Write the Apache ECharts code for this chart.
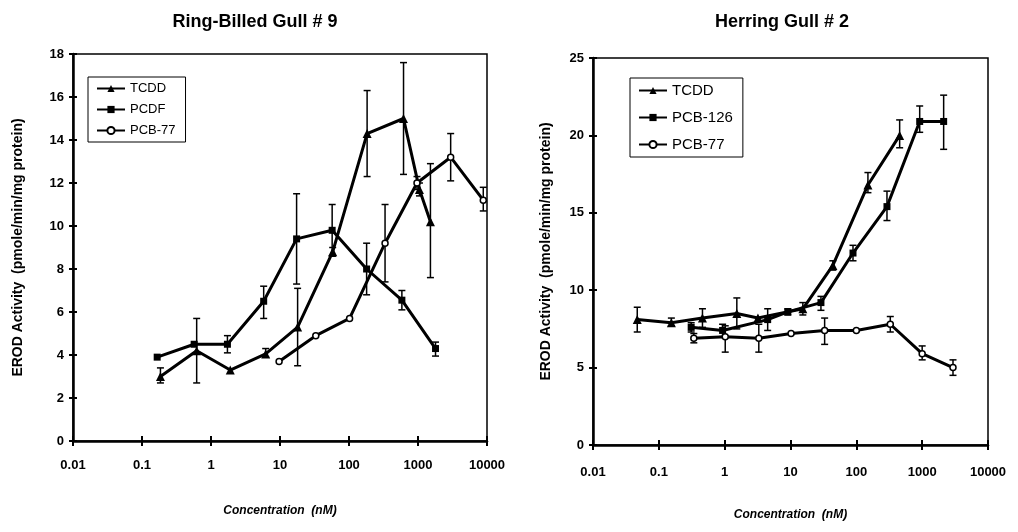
<!DOCTYPE html>
<html>
<head>
<meta charset="utf-8">
<script src="https://cdn.jsdelivr.net/npm/echarts@6/dist/echarts.min.js"></script>
<style>
  html, body { margin: 0; padding: 0; background: #fff; }
  #chart { width: 1018px; height: 532px; }
</style>
</head>
<body>
<div id="chart"></div>
<script>
// tick labels
var xTickLabels = ['0.01', '0.1', '1', '10', '100', '1000', '10000'];

// Ring-Billed Gull # 9
var rbTcddX = [0.185, 0.62, 1.9, 6.2, 18, 58, 183, 617, 1050, 1514];
var rbTcddY = [3.0, 4.2, 3.3, 4.05, 5.3, 8.8, 14.3, 15.0, 11.7, 10.2];
var rbTcddLo = [2.7, 2.7, null, 3.9, 3.5, 8.6, 12.3, 12.4, 11.4, 7.6];
var rbTcddHi = [3.4, 5.7, null, 4.3, 7.1, 9.0, 16.3, 17.6, 12.0, 12.9];

var rbPcdfX = [0.166, 0.57, 1.73, 5.8, 17.4, 57, 180, 584, 1795];
var rbPcdfY = [3.9, 4.5, 4.5, 6.5, 9.4, 9.8, 8.0, 6.55, 4.3];
var rbPcdfLo = [null, null, 4.1, 5.7, 7.3, 8.6, 6.8, 6.1, 3.95];
var rbPcdfHi = [null, null, 4.9, 7.2, 11.5, 11.0, 9.2, 7.0, 4.6];

var rbPcb77X = [9.7, 33, 102, 333, 967, 2974, 8830];
var rbPcb77Y = [3.7, 4.9, 5.7, 9.2, 12.0, 13.2, 11.2];
var rbPcb77Lo = [null, null, null, 7.4, 11.7, 12.1, 10.7];
var rbPcb77Hi = [null, null, null, 11.0, 12.3, 14.3, 11.8];

// Herring Gull # 2
var hgTcddX = [0.047, 0.155, 0.46, 1.53, 3.2, 15.4, 44, 150, 455];
var hgTcddY = [8.1, 7.9, 8.2, 8.5, 8.2, 8.8, 11.6, 16.8, 20.0];
var hgTcddLo = [7.3, 7.7, 7.6, 7.5, null, 8.4, 11.3, 16.3, 19.2];
var hgTcddHi = [8.9, 8.2, 8.8, 9.5, null, 9.2, 11.9, 17.6, 21.0];

var hgPcb126X = [0.31, 0.93, 4.5, 9.1, 29, 89, 292, 917, 2120];
var hgPcb126Y = [7.6, 7.4, 8.1, 8.6, 9.2, 12.4, 15.4, 20.9, 20.9];
var hgPcb126Lo = [7.3, 7.0, 7.4, 8.4, 8.7, 11.9, 14.5, 20.2, 19.1];
var hgPcb126Hi = [7.9, 7.8, 8.8, 8.8, 9.6, 12.9, 16.4, 21.9, 22.6];

var hgPcb77X = [0.34, 1.02, 3.3, 10.2, 33, 100, 328, 1000, 2940];
var hgPcb77Y = [6.9, 7.0, 6.9, 7.2, 7.4, 7.4, 7.8, 5.9, 5.0];
var hgPcb77Lo = [6.6, 6.0, 6.0, null, 6.5, null, 7.3, 5.5, 4.5];
var hgPcb77Hi = [7.2, 7.7, 7.8, null, 8.2, null, 8.3, 6.4, 5.5];

var font = 'Liberation Sans, Arial, sans-serif';

function pairs(xs, ys) {
  return xs.map(function (x, i) { return [x, ys[i]]; });
}
function errs(xs, lo, hi) {
  var out = [];
  xs.forEach(function (x, i) {
    if (lo[i] != null) out.push([x, lo[i], hi[i]]);
  });
  return out;
}

var styles = {
  tri: { symbol: 'triangle', symbolSize: 9, itemStyle: { color: '#000' } },
  sq: { symbol: 'rect', symbolSize: 7, itemStyle: { color: '#000' } },
  circ: { symbol: 'circle', symbolSize: 6, itemStyle: { color: '#fff', borderColor: '#000', borderWidth: 1.5 } }
};

function lineSeries(name, g, data, st) {
  return {
    name: name, type: 'line', xAxisIndex: g, yAxisIndex: g,
    data: data, symbol: st.symbol, symbolSize: st.symbolSize,
    itemStyle: st.itemStyle, lineStyle: { color: '#000', width: 3 },
    z: 3, animation: false
  };
}

function errSeries(g, data) {
  return {
    type: 'custom', xAxisIndex: g, yAxisIndex: g, data: data, z: 2,
    silent: true, animation: false,
    renderItem: function (params, api) {
      var lo = api.coord([api.value(0), api.value(1)]);
      var hi = api.coord([api.value(0), api.value(2)]);
      var w = 3.5;
      var st = { stroke: '#000', lineWidth: 1.5 };
      return {
        type: 'group',
        children: [
          { type: 'line', shape: { x1: lo[0], y1: lo[1], x2: hi[0], y2: hi[1] }, style: st },
          { type: 'line', shape: { x1: lo[0] - w, y1: lo[1], x2: lo[0] + w, y2: lo[1] }, style: st },
          { type: 'line', shape: { x1: hi[0] - w, y1: hi[1], x2: hi[0] + w, y2: hi[1] }, style: st }
        ]
      };
    }
  };
}

function mainX(g) {
  return {
    type: 'log', logBase: 10, min: 0.01, max: 10000, gridIndex: g,
    axisLine: { lineStyle: { color: '#000', width: 2.5 } },
    axisTick: { inside: false, length: 5, lineStyle: { color: '#000', width: 2 } },
    axisLabel: {
      color: '#000', fontFamily: font, fontWeight: 'bold', fontSize: 13, margin: g === 0 ? 18 : 21,
      formatter: function (v, i) { return xTickLabels[i]; }
    },
    splitLine: { show: false }, minorTick: { show: false },
    name: 'Concentration  (nM)', nameLocation: 'middle', nameGap: 64,
    nameTextStyle: { color: '#000', fontFamily: font, fontWeight: 'bold', fontStyle: 'italic', fontSize: 12 }
  };
}
function innerX(g) {
  return {
    type: 'log', logBase: 10, min: 0.01, max: 10000, gridIndex: g, position: 'bottom',
    axisLine: { show: false },
    axisTick: { inside: true, length: 5, lineStyle: { color: '#000', width: 2 } },
    axisLabel: { show: false }, splitLine: { show: false }
  };
}
function mainY(g, max, step) {
  return {
    type: 'value', min: 0, max: max, interval: step, gridIndex: g,
    axisLine: { show: true, lineStyle: { color: '#000', width: 2.5 } },
    axisTick: { show: true, inside: false, length: 4, lineStyle: { color: '#000', width: 2 } },
    axisLabel: { color: '#000', fontFamily: font, fontWeight: 'bold', fontSize: 13, margin: 9 },
    splitLine: { show: false },
    name: 'EROD Activity  (pmole/min/mg protein)', nameLocation: 'middle',
    nameGap: g === 0 ? 48 : 40,
    nameTextStyle: { color: '#000', fontFamily: font, fontWeight: 'bold', fontSize: 14 }
  };
}
function innerY(g, max, step) {
  return {
    type: 'value', min: 0, max: max, interval: step, gridIndex: g, position: 'left',
    axisLine: { show: false },
    axisTick: { show: true, inside: true, length: 4, lineStyle: { color: '#000', width: 2 } },
    axisLabel: { show: false }, splitLine: { show: false }
  };
}

function legend(names, left, top, gap, size) {
  return {
    data: names, orient: 'vertical', left: left, top: top,
    borderColor: '#000', borderWidth: 1, padding: [5, 10, 5, 8],
    itemGap: gap, itemWidth: 28, itemHeight: 9,
    textStyle: { color: '#000', fontFamily: font, fontSize: size },
    selectedMode: false
  };
}

var chart = echarts.init(document.getElementById('chart'));
var option = {
  backgroundColor: '#fff',
  animation: false,
  title: [
    { text: 'Ring-Billed Gull # 9', left: 250, top: 8, textAlign: 'center',
      textStyle: { fontFamily: font, fontWeight: 'bold', fontSize: 18, color: '#000' } },
    { text: 'Herring Gull # 2', left: 777, top: 8, textAlign: 'center',
      textStyle: { fontFamily: font, fontWeight: 'bold', fontSize: 18, color: '#000' } }
  ],
  legend: [
    legend(['TCDD', 'PCDF', 'PCB-77'], 88, 77, 8, 13),
    legend(['TCDD', 'PCB-126', 'PCB-77'], 630, 78, 12, 15)
  ],
  grid: [
    { left: 73, top: 54, width: 414, height: 387, show: true, borderColor: '#000', borderWidth: 1.5, backgroundColor: 'transparent' },
    { left: 593, top: 58, width: 395, height: 387, show: true, borderColor: '#000', borderWidth: 1.5, backgroundColor: 'transparent' }
  ],
  xAxis: [mainX(0), mainX(1), innerX(0), innerX(1)],
  yAxis: [mainY(0, 18, 2), mainY(1, 25, 5), innerY(0, 18, 2), innerY(1, 25, 5)],
  series: [
    errSeries(0, errs(rbTcddX, rbTcddLo, rbTcddHi)),
    errSeries(0, errs(rbPcdfX, rbPcdfLo, rbPcdfHi)),
    errSeries(0, errs(rbPcb77X, rbPcb77Lo, rbPcb77Hi)),
    lineSeries('TCDD', 0, pairs(rbTcddX, rbTcddY), styles.tri),
    lineSeries('PCDF', 0, pairs(rbPcdfX, rbPcdfY), styles.sq),
    lineSeries('PCB-77', 0, pairs(rbPcb77X, rbPcb77Y), styles.circ),
    errSeries(1, errs(hgTcddX, hgTcddLo, hgTcddHi)),
    errSeries(1, errs(hgPcb126X, hgPcb126Lo, hgPcb126Hi)),
    errSeries(1, errs(hgPcb77X, hgPcb77Lo, hgPcb77Hi)),
    lineSeries('TCDD', 1, pairs(hgTcddX, hgTcddY), styles.tri),
    lineSeries('PCB-126', 1, pairs(hgPcb126X, hgPcb126Y), styles.sq),
    lineSeries('PCB-77', 1, pairs(hgPcb77X, hgPcb77Y), styles.circ)
  ]
};
chart.setOption(option);
</script>
</body>
</html>
